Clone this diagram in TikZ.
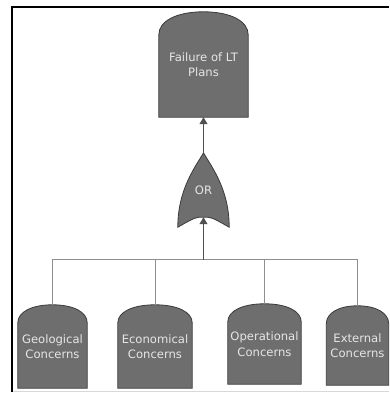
\documentclass[tikz,border=0pt]{standalone}
\usepackage{fontspec}
\setmainfont{DejaVu Sans}
\usetikzlibrary{calc,arrows.meta,backgrounds}

\definecolor{evfill}{HTML}{6E6E6E}
\definecolor{evtext}{HTML}{E6E6E6}
\definecolor{evline}{HTML}{3A3A3A}
\definecolor{wire}{HTML}{8E8E8E}
\definecolor{arrowgray}{HTML}{505050}
\definecolor{framegray}{HTML}{D8D8D8}

% Event box with a domed top: #1 = node name, #2 = height of the dome
\newcommand\domedevent[2]{%
  \draw[eventshape]
    (#1.south west) -- ($(#1.north west)+(0,-#2)$)
    .. controls ($(#1.north west)+(0,-0.4*#2)$) and ($(#1.north west)!0.4!(#1.north)$) .. (#1.north)
    .. controls ($(#1.north east)!0.4!(#1.north)$) and ($(#1.north east)+(0,-0.4*#2)$) .. ($(#1.north east)+(0,-#2)$)
    -- (#1.south east) -- cycle;}

\begin{document}
\begin{tikzpicture}[x=1pt,y=1pt,
  event/.style n args={2}{inner sep=0pt, minimum width=#1, minimum height=#2,
    text=evtext, align=center, font=\fontsize{11.6}{15.5}\selectfont},
  eventshape/.style={fill=evfill, draw=evline, line width=0.8pt},
  link/.style={draw=wire, line width=1pt},
  arrowlink/.style={draw=arrowgray, line width=1.1pt,
    -{Triangle[width=8pt,length=7pt]}},
]
\useasboundingbox (0,0) rectangle (389,394);

% frame
\draw[line width=2pt, black] (12,2) -- (12,387) -- (389,387);
\draw[line width=1pt, framegray] (13,2) -- (389,2);

% events
\node[event={89pt}{105pt}] (top) at (203.5,329.5) {Failure of LT\\Plans};
\node[event={69pt}{83pt}] (geo) at (52.5,47.5) {Geological\\Concerns};
\node[event={74pt}{83pt}] (eco) at (155,47.5) {Economical\\Concerns};
\node[event={73pt}{80pt}] (ope) at (264.5,50) {Operational\\Concerns};
\node[event={62pt}{79pt}] (ext) at (357.5,48.5) {External\\Concerns};

% OR gate
\node[event={51pt}{74pt}] (orgate) at (203.5,204) {OR};
\coordinate (orin) at ($(orgate.south)+(0,10)$);
\coordinate (bus) at (203.5,134);

\begin{scope}[on background layer]
  \domedevent{top}{23pt}
  \domedevent{geo}{18pt}
  \domedevent{eco}{18pt}
  \domedevent{ope}{18pt}
  \domedevent{ext}{18pt}
  \draw[eventshape]
    (orgate.south west)
    .. controls ($(orgate.south west)+(0,38)$) and ($(orgate.north)+(-8,-14)$) .. (orgate.north)
    .. controls ($(orgate.north)+(8,-14)$) and ($(orgate.south east)+(0,38)$) .. (orgate.south east)
    .. controls ($(orin)+(8,0)$) and ($(orin)+(8,0)$) .. (orin)
    .. controls ($(orin)+(-8,0)$) and ($(orin)+(-8,0)$) .. (orgate.south west)
    -- cycle;
\end{scope}

% connectors
\draw[link] (geo.north) |- (bus);
\draw[link] (eco.north) |- (bus);
\draw[link] (ope.north) |- (bus);
\draw[link] (ext.north) |- (bus);
\draw[arrowlink] (bus) -- (orin);
\draw[arrowlink] (orgate.north) -- (top.south);
\end{tikzpicture}
\end{document}
